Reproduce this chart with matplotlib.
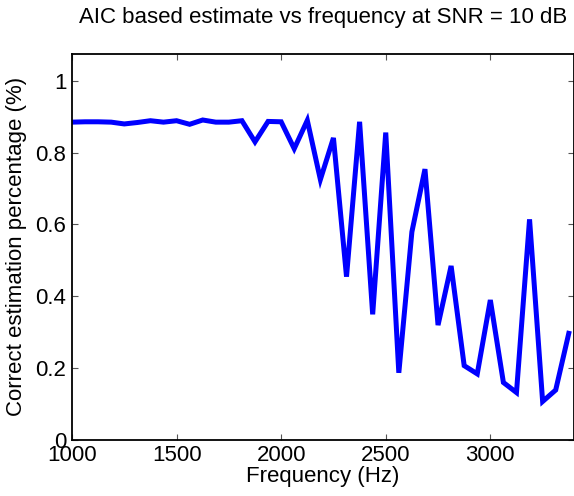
import numpy as np
import matplotlib
matplotlib.use("Agg")
import matplotlib.pyplot as plt

plt.rcParams['font.family'] = ['Liberation Sans', 'DejaVu Sans']

# frequencies (Hz), 62.5 Hz steps
freq = [1000, 1062.5, 1125, 1187.5, 1250, 1312.5, 1375, 1437.5, 1500, 1562.5,
        1625, 1687.5, 1750, 1812.5, 1875, 1937.5, 2000, 2062.5, 2125, 2187.5,
        2250, 2312.5, 2375, 2437.5, 2500, 2562.5, 2625, 2687.5, 2750, 2812.5,
        2875, 2937.5, 3000, 3062.5, 3125, 3187.5, 3250, 3312.5, 3375]

# correct estimation percentage
correct = [0.885, 0.886, 0.886, 0.885, 0.880, 0.884, 0.889, 0.885, 0.889, 0.879,
           0.891, 0.885, 0.885, 0.889, 0.830, 0.887, 0.886, 0.811, 0.890, 0.725,
           0.841, 0.454, 0.886, 0.349, 0.856, 0.186, 0.579, 0.754, 0.319, 0.484,
           0.206, 0.183, 0.389, 0.159, 0.131, 0.614, 0.106, 0.138, 0.296]

xticks = [1000, 1500, 2000, 2500, 3000]
yticks = [0, 0.2, 0.4, 0.6, 0.8, 1]
ytick_labels = ['0', '0.2', '0.4', '0.6', '0.8', '1']

fig = plt.figure(figsize=(5.74, 4.96), dpi=100)
ax = fig.add_axes([0.1254, 0.1139, 0.8746, 0.7772])

ax.plot(freq, correct, color=(0, 0, 1), linewidth=3.6, solid_joinstyle='miter')

ax.set_xlim(1000, 3400)
ax.set_ylim(0, 1.075)
ax.set_xticks(xticks)
ax.set_yticks(yticks)
ax.set_yticklabels(ytick_labels)

ax.tick_params(direction='in', length=4, width=0.8, color='#555555',
               top=True, right=True, labelsize=16, pad=4)
for s in ax.spines.values():
    s.set_linewidth(1.3)

ax.set_title('AIC based estimate vs frequency at SNR = 10 dB', fontsize=16, pad=22)
ax.set_xlabel('Frequency (Hz)', fontsize=16, labelpad=0)
ax.set_ylabel('Correct estimation percentage (%)', fontsize=16, labelpad=6)

fig.savefig('out.png', dpi=100)
